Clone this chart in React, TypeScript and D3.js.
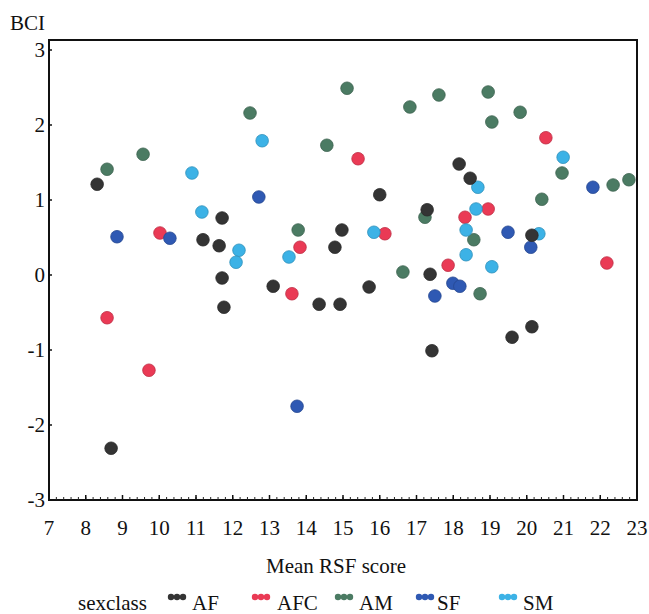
import React from "react";
import * as d3 from "d3";

const classes = ["AF", "AFC", "AM", "SF", "SM"];

const afX = [8.31, 8.69, 11.71, 11.19, 11.63, 11.71, 11.76, 13.1, 14.35, 14.92, 15.71, 16.0, 14.97, 14.78, 17.37, 17.42, 18.16, 18.46, 20.14, 19.6, 20.14];
const afY = [1.21, -2.31, 0.76, 0.47, 0.39, -0.04, -0.43, -0.15, -0.39, -0.39, -0.16, 1.07, 0.6, 0.37, 0.01, -1.01, 1.48, 1.29, -0.69, -0.83, 0.53];

const afcX = [8.58, 9.72, 10.02, 13.83, 13.61, 15.41, 16.14, 20.52, 18.95, 18.32, 17.86, 22.18];
const afcY = [-0.57, -1.27, 0.56, 0.37, -0.25, 1.55, 0.55, 1.83, 0.88, 0.77, 0.13, 0.16];

const amX = [8.58, 9.56, 12.47, 15.11, 14.56, 16.82, 17.61, 13.78, 17.23, 16.63, 18.95, 19.82, 19.05, 20.96, 20.41, 22.35, 22.78, 18.56, 18.73];
const amY = [1.41, 1.61, 2.16, 2.49, 1.73, 2.24, 2.4, 0.6, 0.77, 0.04, 2.44, 2.17, 2.04, 1.36, 1.01, 1.2, 1.27, 0.47, -0.25];

const sfX = [8.85, 10.29, 12.71, 13.75, 19.49, 20.11, 21.8, 17.5, 17.99, 18.18];
const sfY = [0.51, 0.49, 1.04, -1.75, 0.57, 0.37, 1.17, -0.28, -0.11, -0.15];

const smX = [10.89, 11.16, 12.17, 12.09, 12.8, 13.53, 15.84, 20.99, 18.67, 18.62, 18.35, 18.35, 19.05, 20.33];
const smY = [1.36, 0.84, 0.33, 0.17, 1.79, 0.24, 0.57, 1.57, 1.17, 0.88, 0.6, 0.27, 0.11, 0.55];

// AF point drawn on top of others (overlaps at 17.3)
const afTopX = [17.29];
const afTopY = [0.87];

const xTicks = d3.range(7, 24, 1);
const yTicks = [3, 2, 1, 0, -1, -2, -3];

const colors: Record<string, string> = {
  AF: "#343434",
  AFC: "#ea3a55",
  AM: "#4b7b63",
  SF: "#2f59b3",
  SM: "#3cb2e6",
};

const series = [
  { name: "AM", xs: amX, ys: amY },
  { name: "AFC", xs: afcX, ys: afcY },
  { name: "SM", xs: smX, ys: smY },
  { name: "SF", xs: sfX, ys: sfY },
  { name: "AF", xs: afX, ys: afY },
  { name: "AF", xs: afTopX, ys: afTopY },
];

const FONT = '"Liberation Serif", Tinos, "Times New Roman", Times, "Noto Serif", "DejaVu Serif", serif';

function T(props: any) {
  const { children, ...rest } = props;
  return (
    <text {...rest} fontSize={21} fill="#111" style={{ fontFamily: FONT }}>
      {children}
    </text>
  );
}

export default function App() {
  const W = 649, H = 614;
  const left = 49, right = 637, top = 40, bottom = 500;
  const x = d3.scaleLinear().domain([7, 23]).range([left, right]);
  const y = d3.scaleLinear().domain([-3, 3]).range([500, 50]);
  const minor = d3.range(7, 23.001, 0.2);
  const legendPos = [
    { name: "AF", sx: 168, tx: 192 },
    { name: "AFC", sx: 252, tx: 277 },
    { name: "AM", sx: 335, tx: 359 },
    { name: "SF", sx: 416, tx: 437 },
    { name: "SM", sx: 499, tx: 523 },
  ];
  return (
    <svg width={W} height={H} style={{ position: "absolute", left: 0, top: 0, background: "#fff" }}>
      <rect x={0} y={0} width={W} height={H} fill="#fff" />
      <rect x={left} y={top} width={right - left} height={bottom - top} fill="none" stroke="#111" strokeWidth={2} />
      {minor.map((v, i) => (
        <line key={"m" + i} x1={x(v)} x2={x(v)} y1={bottom} y2={bottom - 3} stroke="#222" strokeWidth={1} />
      ))}
      {xTicks.map((v) => (
        <g key={"xt" + v}>
          <line x1={x(v)} x2={x(v)} y1={bottom} y2={bottom - 5} stroke="#111" strokeWidth={1.5} />
          <T x={x(v)} y={535} textAnchor="middle">{v}</T>
        </g>
      ))}
      {yTicks.map((v) => (
        <g key={"yt" + v}>
          <line x1={left} x2={left + 3} y1={y(v)} y2={y(v)} stroke="#111" strokeWidth={1.5} />
          <T x={45} y={y(v) + 7} textAnchor="end">{v}</T>
        </g>
      ))}
      <T x={10} y={30}>BCI</T>
      <T x={336} y={573} textAnchor="middle">Mean RSF score</T>
      {series.map((s, si) => (
        <g key={"s" + si}>
          {s.xs.map((xv, i) => (
            <circle key={i} cx={x(xv)} cy={y(s.ys[i])} r={6.3} fill={colors[s.name]} stroke={d3.color(colors[s.name])!.darker(0.6).toString()} strokeWidth={0.8} />
          ))}
        </g>
      ))}
      <T x={78} y={610}>sexclass</T>
      {legendPos.map((l, i) => (
        <g key={"lg" + i}>
          {[0, 6, 12].map((dx) => (
            <circle key={dx} cx={l.sx + 3 + dx} cy={597} r={3.2} fill={colors[classes[i]]} />
          ))}
          <T x={l.tx} y={610}>{l.name}</T>
        </g>
      ))}
    </svg>
  );
}
